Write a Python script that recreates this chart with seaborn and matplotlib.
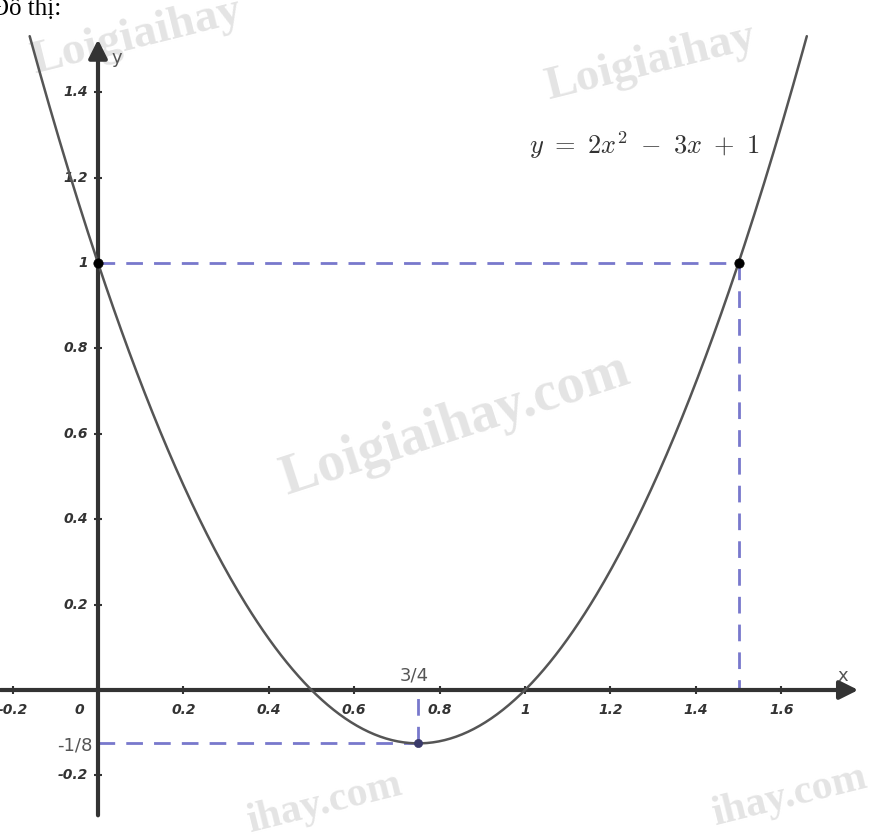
import numpy as np
import pandas as pd
import matplotlib
matplotlib.use("Agg")
import matplotlib.pyplot as plt
import seaborn as sns

# DATA
coefs = [2, -3, 1]                 # y = 2x^2 - 3x + 1
curve_x_range = [-0.16, 1.66]
x_ticks = [-0.2, 0.2, 0.4, 0.6, 0.8, 1, 1.2, 1.4, 1.6]
x_tick_labels = ["-0.2", "0.2", "0.4", "0.6", "0.8", "1", "1.2", "1.4", "1.6"]
y_ticks = [-0.2, 0.2, 0.4, 0.6, 0.8, 1, 1.2, 1.4]
y_tick_labels = ["-0.2", "0.2", "0.4", "0.6", "0.8", "1", "1.2", "1.4"]
pts_x = [0, 1.5]
pts_y = [1, 1]
vertex_x = [0.75]
vertex_y = [-0.125]

sns.set_theme(style="white")
plt.rcParams["font.family"] = ["DejaVu Sans"]
plt.rcParams["mathtext.fontset"] = "cm"

fig = plt.figure(figsize=(8.8, 8.4), dpi=100)
ax = fig.add_axes([0, 0, 1, 1])
ax.set_xlim(-98 / 427, 782 / 427)
ax.set_ylim(-150 / 427, 690 / 427)
ax.axis("off")

# watermark text (faint, as in the scan)
wm = dict(color="#e4e4e4", fontfamily="Liberation Serif", fontweight="bold", zorder=0,
          ha="center", va="center")
ax.text(0.836, 0.62, "Loigiaihay.com", fontsize=40, rotation=18, **wm)
ax.text(1.293, 1.47, "Loigiaihay", fontsize=34, rotation=14, **wm)
ax.text(0.09, 1.53, "Loigiaihay", fontsize=34, rotation=14, **wm)
ax.text(0.53, -0.265, "ihay.com", fontsize=30, rotation=14, **wm)
ax.text(1.62, -0.25, "ihay.com", fontsize=30, rotation=14, **wm)

# dashed guides
guide = dict(color="#7878cc", lw=2, dashes=(6, 4), zorder=2)
ax.plot([0, pts_x[1]], [pts_y[1], pts_y[1]], **guide)
ax.plot([pts_x[1], pts_x[1]], [pts_y[1], 0], **guide)
ax.plot([0, vertex_x[0]], [vertex_y[0], vertex_y[0]], **guide)
ax.plot([vertex_x[0], vertex_x[0]], [vertex_y[0], 0], **guide)

# axes with arrows
ax.annotate("", xy=(1.787, 0), xytext=(-0.235, 0),
            arrowprops=dict(arrowstyle="-|>", lw=3, color="#333333", mutation_scale=28), zorder=3)
ax.annotate("", xy=(0, 1.53), xytext=(0, -0.3),
            arrowprops=dict(arrowstyle="-|>", lw=3, color="#333333", mutation_scale=28), zorder=3)

# ticks
ax.scatter(x_ticks, [0] * len(x_ticks), marker="|", s=30, color="#333333", lw=1.5, zorder=4)
ax.scatter([0] * len(y_ticks), y_ticks, marker="_", s=30, color="#333333", lw=1.5, zorder=4)

lab = dict(fontsize=10, fontweight="bold", fontstyle="italic", color="#333333")
for t, s in zip(x_ticks, x_tick_labels):
    ax.text(t, -0.047, s, ha="center", va="center", **lab)
ax.text(-0.043, -0.047, "0", ha="center", va="center", **lab)
for t, s in zip(y_ticks, y_tick_labels):
    ax.text(-0.023, t, s, ha="right", va="center", **lab)

# curve
xs = np.linspace(curve_x_range[0], curve_x_range[1], 400)
df = pd.DataFrame({"x": xs, "y": np.polyval(coefs, xs)})
sns.lineplot(data=df, x="x", y="y", ax=ax, color="#555555", lw=1.8, sort=False, zorder=5)

# points
sns.scatterplot(x=pts_x, y=pts_y, ax=ax, color="black", s=45, zorder=6, edgecolor="black")
sns.scatterplot(x=vertex_x, y=vertex_y, ax=ax, color="#3a3a6a", s=35, zorder=6,
                edgecolor="#3a3a6a")

# annotations
ax.text(0.74, 0.035, "3/4", ha="center", va="center", fontsize=13, color="#555555")
ax.text(-0.012, -0.129, "-1/8", ha="right", va="center", fontsize=13, color="#555555")
ax.text(1.745, 0.033, "x", ha="center", va="center", fontsize=13, color="#555555")
ax.text(0.044, 1.48, "y", ha="center", va="center", fontsize=13, color="#555555")
ax.text(1.01, 1.276, r"$y\ =\ 2x^2\ -\ 3x\ +\ 1$", ha="left", va="center", fontsize=19,
        color="#333333")

fig.text(-0.01, 1 - 15 / 840, "Đồ thị:", fontsize=18, fontfamily="Liberation Serif",
         ha="left", va="baseline", color="black")

fig.savefig("out.png", dpi=100)
